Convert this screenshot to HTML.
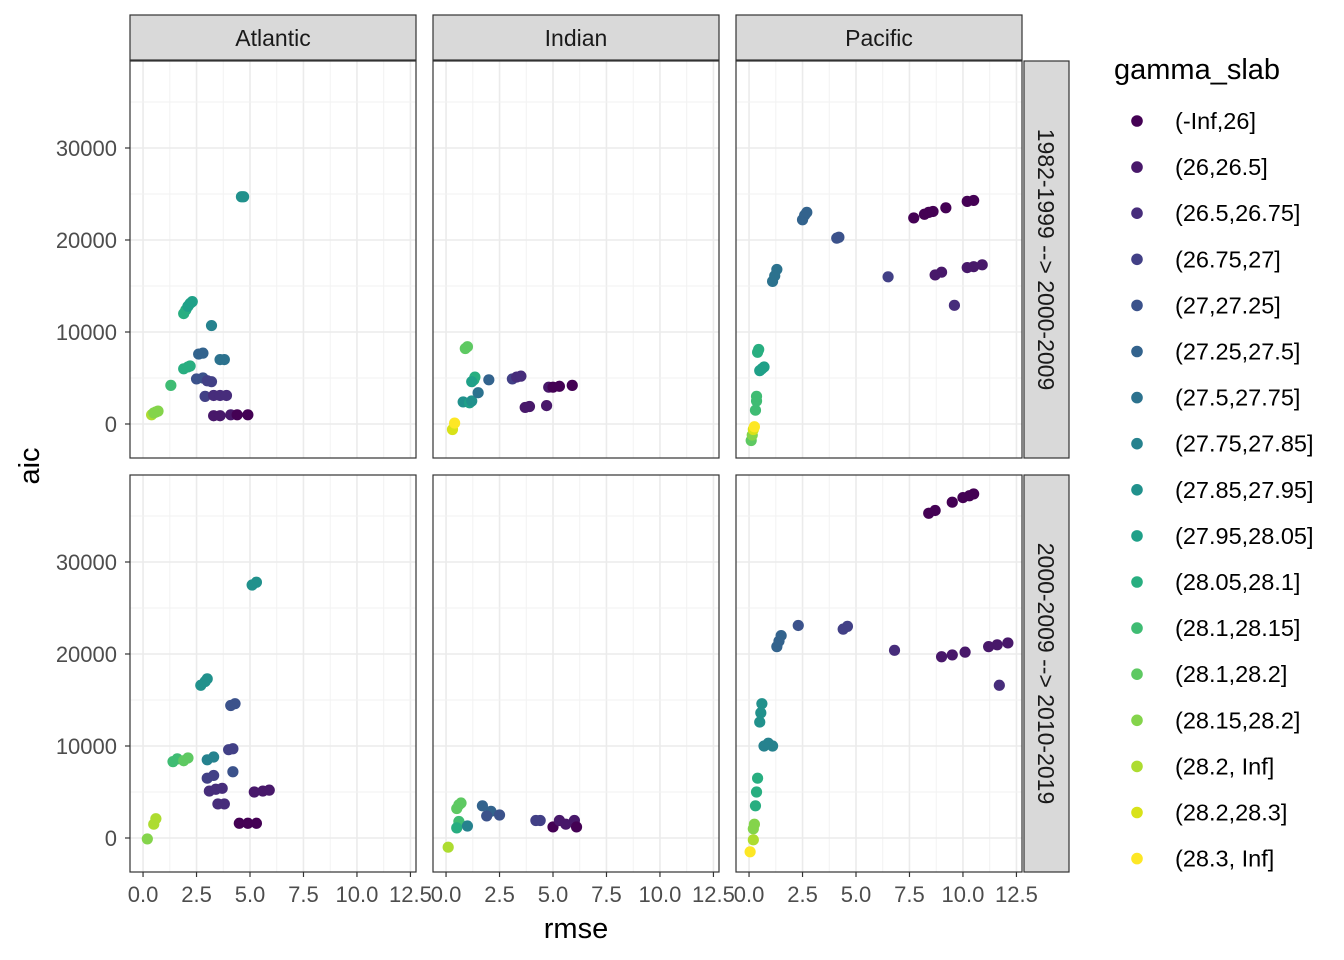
<!DOCTYPE html>
<html><head><meta charset="utf-8"><style>
body{margin:0;background:#fff;}
svg{display:block;font-family:"Liberation Sans",sans-serif;}
</style></head><body>
<svg id="chart" width="1344" height="960"></svg>
<script>
const categories=["(-Inf,26]","(26,26.5]","(26.5,26.75]","(26.75,27]","(27,27.25]","(27.25,27.5]","(27.5,27.75]","(27.75,27.85]","(27.85,27.95]","(27.95,28.05]","(28.05,28.1]","(28.1,28.15]","(28.1,28.2]","(28.15,28.2]","(28.2, Inf]","(28.2,28.3]","(28.3, Inf]"];
const colors=["#440154","#48186a","#472d7b","#424086","#3b528b","#33638d","#2c728e","#26828e","#21918c","#1fa088","#28ae80","#3fbc73","#5ec962","#84d44b","#addc30","#d8e219","#fde725"];
const basins=["Atlantic","Indian","Pacific"];
const periods=["1982-1999 --> 2000-2009","2000-2009 --> 2010-2019"];
const xTicks=[0,2.5,5,7.5,10,12.5];
const xTickLabels=["0.0","2.5","5.0","7.5","10.0","12.5"];
const yTicks=[0,10000,20000,30000];
// [rmse, aic, categoryIndex]
const atl1=[[4.6,24700,8],[4.7,24700,8],[1.9,12000,10],[2.0,12400,10],[2.1,12800,9],[2.2,13100,9],[2.3,13300,9],[3.2,10700,7],[3.6,7000,6],[3.8,7000,6],[2.6,7600,5],[2.8,7700,5],[1.9,6000,10],[2.1,6200,10],[2.2,6300,10],[1.3,4200,11],[2.5,4900,4],[2.8,5000,4],[3.0,4700,3],[3.2,4600,3],[2.9,3000,3],[3.3,3100,2],[3.6,3100,2],[3.9,3100,2],[3.3,900,1],[3.6,900,1],[4.1,1000,1],[4.4,1000,0],[4.9,1000,0],[0.4,1000,14],[0.5,1200,13],[0.6,1300,13],[0.7,1400,13]];
const ind1=[[0.9,8200,12],[1.0,8400,12],[1.3,4800,10],[1.35,5100,10],[1.2,4600,9],[0.8,2400,8],[1.1,2300,9],[1.2,2500,8],[1.5,3400,6],[2.0,4800,5],[3.1,4900,3],[3.3,5100,2],[3.5,5200,2],[3.7,1800,1],[3.9,1900,1],[4.7,2000,1],[4.8,4000,1],[5.0,4000,0],[5.3,4100,0],[5.9,4200,0],[0.3,-600,15],[0.4,100,16]];
const pac1=[[0.1,-1800,12],[0.15,-1200,13],[0.2,-600,15],[0.25,-300,16],[0.3,1500,11],[0.35,2500,11],[0.35,3000,11],[0.4,7800,10],[0.45,8100,10],[0.5,5800,9],[0.6,6000,9],[0.7,6200,9],[1.1,15500,6],[1.2,16100,6],[1.3,16800,6],[2.5,22200,5],[2.6,22700,5],[2.7,23000,5],[4.1,20200,4],[4.2,20300,4],[6.5,16000,3],[7.7,22400,0],[8.2,22800,0],[8.4,23000,0],[8.6,23100,0],[9.2,23500,0],[10.2,24200,0],[10.5,24300,0],[8.7,16200,1],[9.0,16500,1],[9.6,12900,2],[10.2,17000,1],[10.5,17100,1],[10.9,17300,1]];
const atl2=[[5.1,27500,8],[5.3,27800,8],[2.7,16600,8],[2.9,17000,8],[3.0,17300,8],[4.1,14400,4],[4.3,14600,4],[1.4,8300,11],[1.6,8600,11],[1.9,8400,12],[2.1,8700,12],[3.0,8500,7],[3.3,8800,7],[4.0,9600,3],[4.2,9700,3],[4.2,7200,4],[3.0,6500,3],[3.3,6800,3],[3.1,5100,2],[3.4,5300,2],[3.7,5400,2],[3.5,3700,2],[3.8,3700,2],[5.2,5000,1],[5.6,5100,1],[5.9,5200,1],[4.5,1600,0],[4.9,1600,0],[5.3,1600,0],[0.5,1500,14],[0.6,2100,14],[0.2,-100,13]];
const ind2=[[0.5,3200,12],[0.6,3600,12],[0.7,3800,12],[0.6,1800,11],[0.5,1100,10],[1.0,1300,7],[1.7,3500,5],[2.1,2900,5],[1.9,2400,4],[2.5,2500,4],[4.2,1900,3],[4.4,1900,3],[5.0,1200,0],[5.3,1900,1],[5.6,1500,1],[6.0,1900,1],[6.1,1200,0],[0.1,-1000,14]];
const pac2=[[8.4,35300,0],[8.7,35600,0],[9.5,36500,0],[10.0,37000,0],[10.3,37200,0],[10.5,37400,0],[2.3,23100,4],[4.4,22700,3],[4.6,23000,3],[1.3,20800,5],[1.4,21400,5],[1.5,22000,5],[6.8,20400,2],[9.0,19700,1],[9.5,19900,1],[10.1,20200,1],[11.2,20800,1],[11.6,21000,1],[12.1,21200,1],[11.7,16600,2],[0.5,12600,8],[0.55,13600,8],[0.6,14600,8],[0.7,10000,7],[0.9,10300,7],[1.1,10000,7],[0.3,3500,10],[0.35,5000,10],[0.4,6500,10],[0.2,1000,13],[0.25,1500,13],[0.2,-200,14],[0.05,-1500,16]];
const panelData=[[atl1,ind1,pac1],[atl2,ind2,pac2]];

const NS="http://www.w3.org/2000/svg";
const svg=document.getElementById('chart');
function mk(tag,attrs,parent){const e=document.createElementNS(NS,tag);for(const k in attrs)e.setAttribute(k,attrs[k]);(parent||svg).appendChild(e);return e;}
const colX=[130,433,736],rowY=[61,475],PW=286,PH=397;
const xMin=-0.61,xMax=12.76,yMin=-3696,yMax=39456;
function xs(c,v){return colX[c]+(v-xMin)/(xMax-xMin)*PW;}
function ys(r,v){return rowY[r]+PH-(v-yMin)/(yMax-yMin)*PH;}

for(let r=0;r<2;r++)for(let c=0;c<3;c++){
  const g=mk('g',{});
  
  
  mk('rect',{x:colX[c],y:rowY[r],width:PW,height:PH,fill:'#fff'},g);
  for(let i=0;i<xTicks.length;i++){
    const m=xs(c,xTicks[i]+1.25);
    if(xTicks[i]+1.25<xMax) mk('line',{x1:m,x2:m,y1:rowY[r],y2:rowY[r]+PH,stroke:'#f2f2f2','stroke-width':1},g);
    const x=xs(c,xTicks[i]);
    mk('line',{x1:x,x2:x,y1:rowY[r],y2:rowY[r]+PH,stroke:'#ebebeb','stroke-width':1.6},g);
  }
  for(let i=-1;i<yTicks.length;i++){
    const mv=(i<0?-5000:yTicks[i])+5000;
    const m=ys(r,mv); if(m>rowY[r]&&m<rowY[r]+PH) mk('line',{x1:colX[c],x2:colX[c]+PW,y1:m,y2:m,stroke:'#f2f2f2','stroke-width':1},g);
    if(i>=0){const y=ys(r,yTicks[i]);mk('line',{x1:colX[c],x2:colX[c]+PW,y1:y,y2:y,stroke:'#ebebeb','stroke-width':1.6},g);}
  }
  for(const p of panelData[r][c]){
    const pt=mk('circle',{cx:xs(c,p[0]),cy:ys(r,p[1]),r:5.6,fill:colors[p[2]]},g);
    
    
  }
  mk('rect',{x:colX[c],y:rowY[r],width:PW,height:PH,fill:'none',stroke:'#333','stroke-width':1.2},g);
}
for(let c=0;c<3;c++){
  const g=mk('g',{});
  
  
  mk('rect',{x:colX[c],y:15,width:PW,height:45,fill:'#d9d9d9',stroke:'#333','stroke-width':1.2},g);
  const t=mk('text',{x:colX[c]+PW/2,y:46,'text-anchor':'middle','font-size':23,fill:'#1a1a1a'},g);t.textContent=basins[c];
}
for(let r=0;r<2;r++){
  const g=mk('g',{});
  
  
  mk('rect',{x:1024,y:rowY[r],width:45,height:PH,fill:'#d9d9d9',stroke:'#333','stroke-width':1.2},g);
  const cy=rowY[r]+PH/2;
  const t=mk('text',{x:1046,y:cy,'text-anchor':'middle','font-size':23,fill:'#1a1a1a',transform:`rotate(90 1046 ${cy}) translate(0 8)`},g);t.textContent=periods[r];
}
for(let c=0;c<3;c++)for(let i=0;i<xTicks.length;i++){
  const x=xs(c,xTicks[i]);
  mk('line',{x1:x,x2:x,y1:872,y2:877,stroke:'#333','stroke-width':1.2});
  const t=mk('text',{x:x,y:902,'text-anchor':'middle','font-size':22,fill:'#4d4d4d'});t.textContent=xTickLabels[i];
  
}
for(let r=0;r<2;r++)for(const v of yTicks){
  const y=ys(r,v);
  mk('line',{x1:125,x2:130,y1:y,y2:y,stroke:'#333','stroke-width':1.2});
  const t=mk('text',{x:117,y:y+8,'text-anchor':'end','font-size':22,fill:'#4d4d4d'});t.textContent=v;
  
}
let t=mk('text',{x:576,y:938,'text-anchor':'middle','font-size':29,fill:'#000'});t.textContent='rmse';

t=mk('text',{x:39,y:466,'text-anchor':'middle','font-size':29,fill:'#000',transform:'rotate(-90 39 466)'});t.textContent='aic';

const lg=mk('g',{});


t=mk('text',{x:1114,y:79,'font-size':29,fill:'#000'},lg);t.textContent='gamma_slab';
for(let i=0;i<categories.length;i++){
  const y=121+i*46.1;
  const e=mk('g',{},lg);
  
  
  mk('circle',{cx:1137,cy:y,r:5.8,fill:colors[i]},e);
  const tt=mk('text',{x:1175,y:y+8,'font-size':23.5,fill:'#000'},e);tt.textContent=categories[i];
}
</script>
</body></html>
